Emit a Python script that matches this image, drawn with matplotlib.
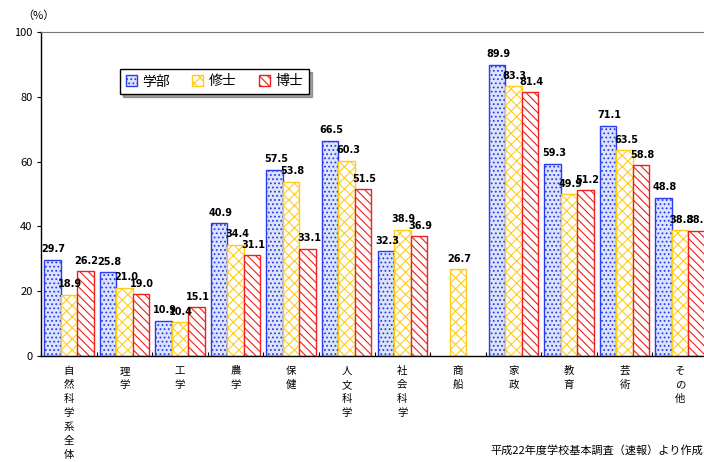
import matplotlib
matplotlib.use("Agg")
import matplotlib.pyplot as plt
import numpy as np

plt.rcParams['font.family'] = ['Noto Sans CJK JP', 'DejaVu Sans']
plt.rcParams['hatch.linewidth'] = 0.8

# data
categories = ["自然科学系全体", "理学", "工学", "農学", "保健", "人文科学",
              "社会科学", "商船", "家政", "教育", "芸術", "その他"]
gakubu = [29.7, 25.8, 10.9, 40.9, 57.5, 66.5, 32.3, None, 89.9, 59.3, 71.1, 48.8]
shushi = [18.9, 21.0, 10.4, 34.4, 53.8, 60.3, 38.9, 26.7, 83.3, 49.9, 63.5, 38.8]
hakase = [26.2, 19.0, 15.1, 31.1, 33.1, 51.5, 36.9, None, 81.4, 51.2, 58.8, 38.7]
series_names = ["学部", "修士", "博士"]

styles = [
    dict(facecolor="#dbe4fb", edgecolor="#2b3cf0", hatch="...."),
    dict(facecolor="white", edgecolor="#ffcc1a", hatch="xxx"),
    dict(facecolor="white", edgecolor="#f21d1d", hatch="\\\\\\\\"),
]

fig = plt.figure(figsize=(7.04, 4.62), dpi=100)
ax = fig.add_axes([41 / 704, 106 / 462, 667 / 704, 324 / 462])

bw = 0.297
centers = np.arange(len(categories)) + 0.5
handles = []
for k, (vals, st) in enumerate(zip([gakubu, shushi, hakase], styles)):
    xs = [c + (k - 1) * bw for c, v in zip(centers, vals) if v is not None]
    ys = [v for v in vals if v is not None]
    bars = ax.bar(xs, ys, width=bw, linewidth=1.0, label=series_names[k], **st)
    handles.append(bars)
    for x, y in zip(xs, ys):
        ax.annotate(f"{y:.1f}", (x, y), xytext=(1, 4), textcoords="offset points",
                    ha="center", va="bottom", fontsize=7, fontweight="bold",
                    family="DejaVu Sans")

ax.set_xlim(0, 12)
ax.set_ylim(0, 100)
ax.set_yticks([0, 20, 40, 60, 80, 100])
ax.tick_params(axis="y", direction="out", length=3, labelsize=8, pad=3)

ax.set_xticks(np.arange(0, 13))
ax.set_xticklabels([])
ax.tick_params(axis="x", which="major", direction="in", length=3, width=0.8)
ax.set_xticks(centers, minor=True)
ax.set_xticklabels(["\n".join(c) for c in categories], minor=True,
                   fontsize=7.5, linespacing=1.5)
ax.tick_params(axis="x", which="minor", length=0, pad=7)

for s in ["left", "bottom"]:
    ax.spines[s].set_color("black")
    ax.spines[s].set_linewidth(1.0)
for s in ["top", "right"]:
    ax.spines[s].set_color("#777777")
    ax.spines[s].set_linewidth(0.8)

leg = ax.legend(handles=handles, loc="upper left", bbox_to_anchor=(72 / 667, 1 - 30 / 324),
                ncol=3, fontsize=10, frameon=True, fancybox=False, shadow=True,
                handlelength=0.8, handleheight=0.8, columnspacing=1.6,
                handletextpad=0.4, borderpad=0.4)
leg.get_frame().set_edgecolor("black")
leg.get_frame().set_linewidth(1.0)

fig.text(22 / 704, 1 - 16 / 462, "（%）", fontsize=8, ha="left", va="center")
fig.text(703 / 704, 1 - 450 / 462, "平成22年度学校基本調査（速報）より作成",
         fontsize=8, ha="right", va="center")

fig.savefig("out.png", dpi=100)
